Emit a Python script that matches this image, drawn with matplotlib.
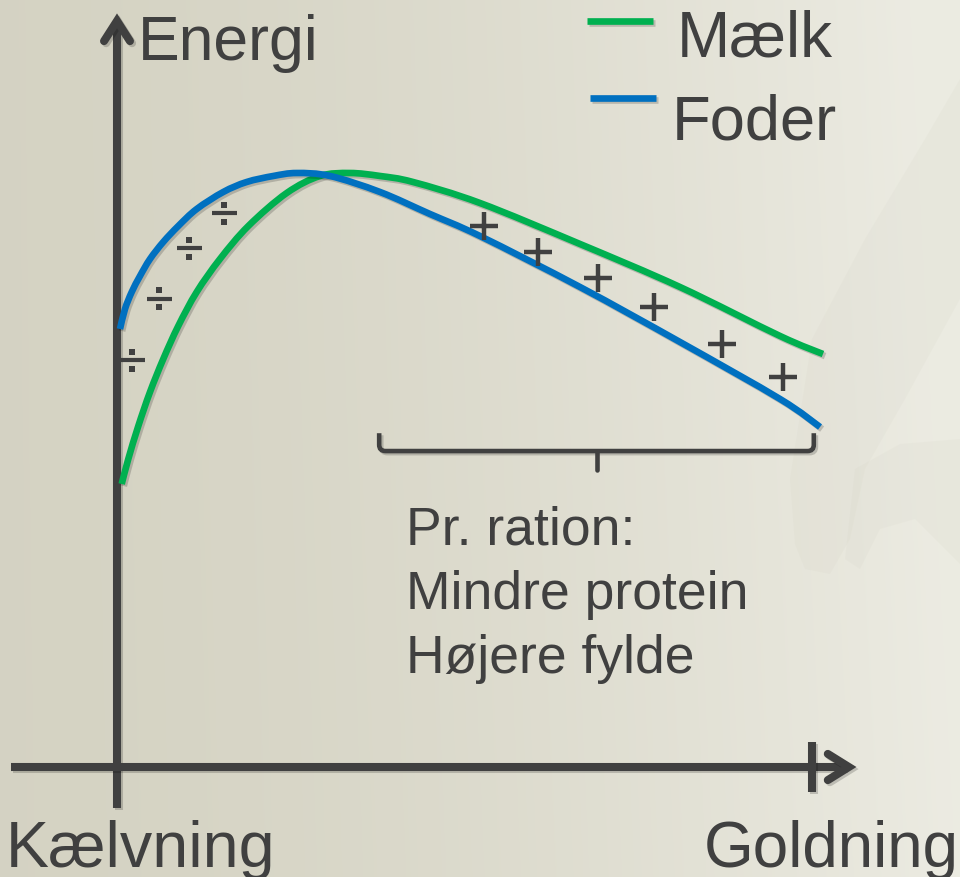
import numpy as np
import matplotlib.pyplot as plt
import matplotlib.patheffects as pe
from matplotlib.path import Path
from matplotlib.patches import PathPatch
from matplotlib.transforms import offset_copy

plt.rcParams['font.family'] = ['Liberation Sans', 'DejaVu Sans']

# curves (time 0..100, energy with peak ~100)
foder_t = [0.43, 1.14, 2.10, 3.28, 4.71, 6.60, 8.74, 11.37, 15.16, 18.50, 22.30,
           25.63, 30.39, 37.52, 44.65, 51.78, 66.05, 80.31, 94.58, 100.29]
foder_e = [73.61, 76.97, 79.83, 82.52, 85.38, 88.24, 90.92, 93.78, 96.64, 98.32, 99.33,
           99.83, 99.33, 96.64, 92.94, 89.24, 80.67, 71.43, 61.85, 57.14]

maelk_t = [0.67, 1.61, 3.04, 4.71, 6.60, 8.74, 11.37, 14.69, 18.73, 24.21, 28.96,
           33.24, 37.52, 42.23, 51.78, 66.05, 80.31, 94.58, 100.71]
maelk_e = [47.56, 51.76, 57.31, 63.03, 68.57, 74.12, 79.83, 85.38, 90.92, 96.47, 99.33,
           99.83, 99.33, 98.32, 94.79, 87.90, 80.67, 72.44, 69.41]

# deficit (÷) and surplus (+) markers
minus_t = [2.1, 6.0, 10.3, 15.3]
minus_e = [68.4, 78.7, 87.2, 93.1]
plus_t = [52.4, 60.1, 68.6, 76.6, 86.3, 95.0]
plus_e = [90.9, 86.6, 82.2, 77.3, 71.1, 65.5]

labels = ['Mælk', 'Foder']
x_start_label = 'Kælvning'
x_end_label = 'Goldning'
y_label = 'Energi'
note_lines = ['Pr. ration:', 'Mindre protein', 'Højere fylde']

GREEN = '#00b050'
BLUE = '#0070c0'
DARK = '#404040'

W, H = 960, 878
fig = plt.figure(figsize=(W / 100, H / 100), dpi=100)
ax = fig.add_axes([0, 0, 1, 1])
# pixel mapping: t=0 at x=117px, 7.01px per unit; e=0 at y=768px, 5.95px per unit
x0, sx, y0, sy = 117, 7.01, 768, 5.95
xmin, xmax = -x0 / sx, (W - x0) / sx
ymin, ymax = (y0 - H) / sy, y0 / sy
ax.set_xlim(xmin, xmax)
ax.set_ylim(ymin, ymax)
ax.axis('off')

# background gradient
gx = np.linspace(0, 1, 400)[None, :]
gy = np.linspace(0, 1, 300)[:, None]
t = np.clip(gx ** 1.6 + 0.08 * (1 - gy) * gx, 0, 1)
c0 = np.array([0.835, 0.827, 0.765])
c1 = np.array([0.925, 0.922, 0.886])
img = c0 + (c1 - c0) * t[..., None]
ax.imshow(img, extent=(xmin, xmax, ymin, ymax), aspect='auto', zorder=0, origin='upper')

# faint watermark shapes on the right
def px(p):
    return [((a - x0) / sx, (y0 - b) / sy) for a, b in p]

band = px([(795, 545), (790, 480), (812, 340), (865, 240), (925, 140), (960, 80),
           (960, 300), (905, 400), (865, 470), (850, 540), (830, 575), (805, 570)])
lobe = px([(845, 560), (855, 470), (900, 445), (960, 440), (960, 565), (915, 520),
           (880, 530), (860, 570)])
for shp in (band, lobe):
    xs, ys = zip(*shp)
    ax.fill(xs, ys, color='#bdbba8', alpha=0.07, lw=0, zorder=1)


def smooth_path(xs, ys):
    # Catmull-Rom through the read points, drawn as cubic Bezier segments
    p = np.column_stack([xs, ys])
    verts = [p[0]]
    codes = [Path.MOVETO]
    for i in range(len(p) - 1):
        pa = p[i - 1] if i > 0 else p[i]
        pd = p[i + 2] if i + 2 < len(p) else p[i + 1]
        verts += [p[i] + (p[i + 1] - pa) / 6, p[i + 1] - (pd - p[i]) / 6, p[i + 1]]
        codes += [Path.CURVE4] * 3
    return Path(verts, codes)


shadow = [pe.SimpleLineShadow(offset=(1.5, -1.5), shadow_color='black', alpha=0.18),
          pe.Normal()]
axw = 5.8

# axes with arrow heads
ax.plot([0, 0], [-6.9, 125.0], color=DARK, lw=axw, solid_capstyle='butt',
        zorder=3, path_effects=shadow)
ax.plot([-1.85, 0, 1.85], [122.0, 125.4, 122.0], color=DARK, lw=axw,
        solid_capstyle='round', solid_joinstyle='miter', zorder=3, path_effects=shadow)
ax.plot([-15.1, 104.0], [0, 0], color=DARK, lw=axw, solid_capstyle='butt',
        zorder=3, path_effects=shadow)
ax.plot([101.4, 104.4, 101.4], [2.2, 0, -2.2], color=DARK, lw=axw,
        solid_capstyle='round', solid_joinstyle='miter', zorder=3, path_effects=shadow)
ax.plot([99.1, 99.1], [4.2, -4.2], color=DARK, lw=axw, solid_capstyle='butt',
        zorder=3, path_effects=shadow)

# curves
lw = 4.8
ax.add_patch(PathPatch(smooth_path(maelk_t, maelk_e), fill=False, ec=GREEN, lw=lw,
                       capstyle='butt', zorder=4, path_effects=shadow))
ax.add_patch(PathPatch(smooth_path(foder_t, foder_e), fill=False, ec=BLUE, lw=lw,
                       capstyle='butt', zorder=5, path_effects=shadow))

# legend
ax.plot([67.0, 76.5], [125.4, 125.4], color=GREEN, lw=lw, solid_capstyle='butt',
        zorder=4, path_effects=shadow)
ax.plot([67.5, 76.9], [112.4, 112.4], color=BLUE, lw=lw, solid_capstyle='butt',
        zorder=4, path_effects=shadow)
ax.text(79.9, 119.5, labels[0], fontsize=46, color=DARK, va='baseline', zorder=6)
ax.text(79.2, 105.7, labels[1], fontsize=45.5, color=DARK, va='baseline', zorder=6)

# markers
ax.plot(plus_t, plus_e, ls='none', marker='+', ms=19.5, mew=3.2, color=DARK, zorder=6)
ax.plot(minus_t, minus_e, ls='none', marker='_', ms=18, mew=3.0, color=DARK, zorder=6)
for dy in (8.5, -8.5):
    tr = offset_copy(ax.transData, fig=fig, x=0, y=dy * 0.72, units='points')
    ax.plot(minus_t, minus_e, ls='none', marker='s', ms=3.8, mew=0, color=DARK,
            transform=tr, zorder=6)

# brace
r = 0.9
verts = [(37.4, 56.1), (37.4, 53.1 + r * sx / sy), (37.4, 53.1), (37.4 + r, 53.1),
         (99.4 - r, 53.1), (99.4, 53.1), (99.4, 53.1 + r * sx / sy), (99.4, 56.1)]
codes = [Path.MOVETO, Path.LINETO, Path.CURVE3, Path.CURVE3,
         Path.LINETO, Path.CURVE3, Path.CURVE3, Path.LINETO]
ax.add_patch(PathPatch(Path(verts, codes), fill=False, ec=DARK, lw=3.3,
                       capstyle='butt', zorder=4, path_effects=shadow))
ax.plot([68.5, 68.5], [53.1, 49.9], color=DARK, lw=3.3, solid_capstyle='round', zorder=4)

# text
ax.text(3.0, 119.0, y_label, fontsize=45, color=DARK, va='baseline', zorder=6)
ax.text(-15.8, -16.6, x_start_label, fontsize=46.5, color=DARK, va='baseline', zorder=6)
ax.text(120.1, -16.6, x_end_label, fontsize=46, color=DARK, ha='right',
        va='baseline', zorder=6)
for line, yb in zip(note_lines, [37.5, 26.7, 16.0]):
    ax.text(41.2, yb, line, fontsize=38.5, color=DARK, va='baseline', zorder=6)

fig.savefig('out.png', dpi=100)
